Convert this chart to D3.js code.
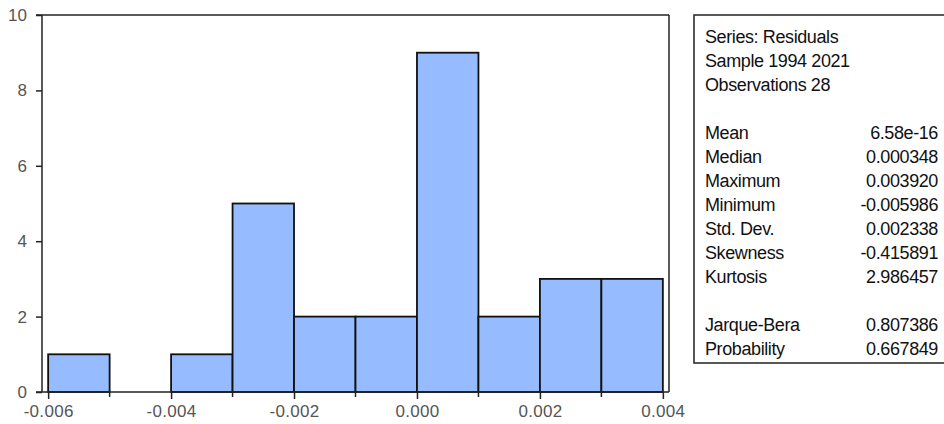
<!DOCTYPE html>
<html>
<head>
<meta charset="utf-8">
<script src="https://cdn.jsdelivr.net/npm/d3@7"></script>
<style>
  body { margin: 0; background: #fff; }
  svg text { font-family: "Liberation Sans", Arial, sans-serif; }
</style>
</head>
<body>
<div id="graph"></div>
<script>
// histogram bins (left edge, right edge) and counts
const binStarts = [-0.006, -0.005, -0.004, -0.003, -0.002, -0.001, 0.000, 0.001, 0.002, 0.003];
const binWidth = 0.001;
const counts = [1, 0, 1, 5, 2, 2, 9, 2, 3, 3];
const xTicks = [-0.006, -0.004, -0.002, 0.000, 0.002, 0.004];
const xMinorTicks = [-0.005, -0.003, -0.001, 0.001, 0.003];
const yTicks = [0, 2, 4, 6, 8, 10];

const statsHeader = ["Series: Residuals", "Sample 1994 2021", "Observations 28"];
const statLabels = ["Mean", "Median", "Maximum", "Minimum", "Std. Dev.", "Skewness", "Kurtosis"];
const statValues = ["6.58e-16", "0.000348", "0.003920", "-0.005986", "0.002338", "-0.415891", "2.986457"];
const testLabels = ["Jarque-Bera", "Probability"];
const testValues = ["0.807386", "0.667849"];

const width = 944, height = 424;
const plot = {left: 42, right: 669, top: 15, bottom: 392};

const svg = d3.select("#graph")
    .append("svg")
    .attr("width", width)
    .attr("height", height);

const xScale = d3.scaleLinear()
    .domain([-0.0061, 0.0041])
    .range([plot.left, plot.right]);
const yScale = d3.scaleLinear()
    .domain([0, 10])
    .range([plot.bottom, plot.top]);

// bars
svg.append("g")
    .selectAll("rect")
    .data(binStarts.map((s, i) => ({x0: s, x1: s + binWidth, n: counts[i]})).filter(d => d.n > 0))
    .join("rect")
    .attr("x", d => xScale(d.x0))
    .attr("y", d => yScale(d.n))
    .attr("width", d => xScale(d.x1) - xScale(d.x0))
    .attr("height", d => yScale(0) - yScale(d.n))
    .style("fill", "#96bcff")
    .style("stroke", "#111")
    .style("stroke-width", 1.8);

// frame: left, top, right, bottom
const frame = svg.append("g").style("stroke", "#222").style("stroke-width", 1.5);
frame.append("line").attr("x1", plot.left).attr("x2", plot.left).attr("y1", plot.top).attr("y2", plot.bottom);
frame.append("line").attr("x1", plot.left - 6).attr("x2", plot.right).attr("y1", plot.top).attr("y2", plot.top);
frame.append("line").attr("x1", plot.right).attr("x2", plot.right).attr("y1", plot.top).attr("y2", plot.bottom);
frame.append("line").attr("x1", plot.left - 6).attr("x2", plot.right).attr("y1", plot.bottom).attr("y2", plot.bottom);

// x axis (labels keep the plain hyphen)
const fmt = d3.format(".3f");
const xAxis = d3.axisBottom(xScale)
    .tickValues(xTicks)
    .tickSizeInner(7)
    .tickSizeOuter(0)
    .tickPadding(6)
    .tickFormat(d => fmt(d).replace("\u2212", "-"));
const gx = svg.append("g")
    .attr("transform", "translate(0," + plot.bottom + ")")
    .call(xAxis);
gx.select(".domain").remove();
gx.selectAll("line").style("stroke", "#222").style("stroke-width", 1.5);
gx.selectAll("text").style("fill", "#555").style("font-size", "17px").attr("letter-spacing", "0.3px");

svg.append("g")
    .selectAll("line")
    .data(xMinorTicks)
    .join("line")
    .attr("x1", d => xScale(d)).attr("x2", d => xScale(d))
    .attr("y1", plot.bottom).attr("y2", plot.bottom + 5)
    .style("stroke", "#222").style("stroke-width", 1.5);

// y axis
const yAxis = d3.axisLeft(yScale)
    .tickValues(yTicks)
    .tickSizeInner(6)
    .tickSizeOuter(0)
    .tickPadding(9);
const gy = svg.append("g")
    .attr("transform", "translate(" + plot.left + ",0)")
    .call(yAxis);
gy.select(".domain").remove();
gy.selectAll("line").style("stroke", "#222").style("stroke-width", 1.5);
gy.selectAll("text").style("fill", "#555").style("font-size", "17px");

// stats box
const box = {left: 694, top: 15, bottom: 363};
svg.append("path")
    .attr("d", `M${width + 5},${box.top}H${box.left}V${box.bottom}H${width + 5}`)
    .style("fill", "none")
    .style("stroke", "#222")
    .style("stroke-width", 1.5);

const lineH = 24, firstBase = 43, textX = 705, valX = 938;
const st = svg.append("g").style("font-size", "18px").style("fill", "#111").attr("letter-spacing", "-0.4px");
statsHeader.forEach((t, i) => {
    st.append("text").attr("x", textX).attr("y", firstBase + i * lineH).text(t);
});
statLabels.forEach((t, i) => {
    st.append("text").attr("x", textX).attr("y", firstBase + (i + 4) * lineH).text(t);
    st.append("text").attr("x", valX).attr("y", firstBase + (i + 4) * lineH)
        .attr("text-anchor", "end").text(statValues[i]);
});
testLabels.forEach((t, i) => {
    st.append("text").attr("x", textX).attr("y", firstBase + (i + 12) * lineH).text(t);
    st.append("text").attr("x", valX).attr("y", firstBase + (i + 12) * lineH)
        .attr("text-anchor", "end").text(testValues[i]);
});
</script>
</body>
</html>
